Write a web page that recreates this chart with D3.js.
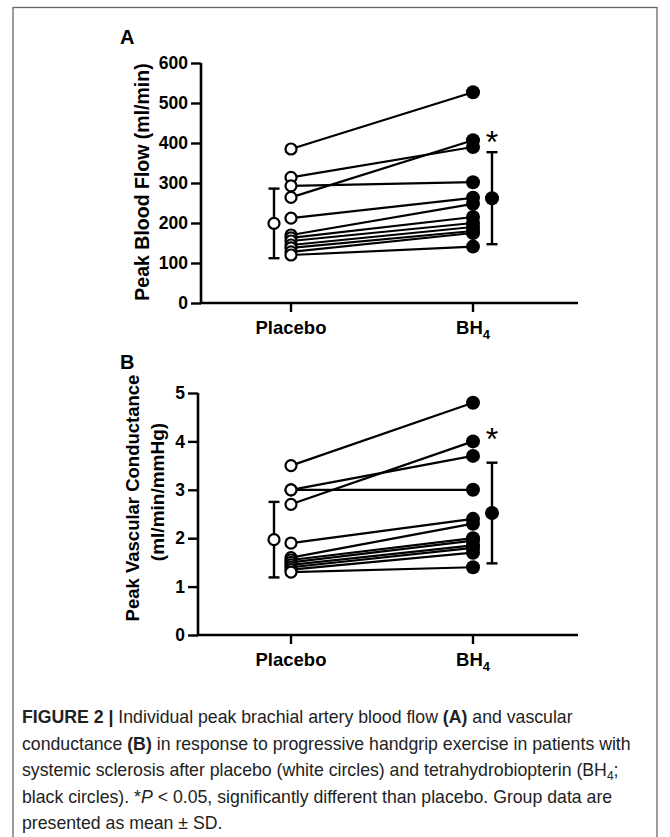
<!DOCTYPE html>
<html>
<head>
<meta charset="utf-8">
<script src="https://cdn.jsdelivr.net/npm/d3@7"></script>
<style>
  body { margin: 0; background: #fff; }
  svg { display: block; }
</style>
</head>
<body>
<div id="chart"></div>
<script>
const groups = ['Placebo', 'BH4'];

const flowPlacebo = [385, 314, 293, 264, 212, 170, 163, 155, 145, 138, 128, 120];
const flowBH4 = [527, 390, 302, 407, 263, 248, 215, 200, 190, 180, 175, 141];
const flowMean = [199, 262];
const flowSD = [87, 115];
const flowTicks = [0, 100, 200, 300, 400, 500, 600];

const condPlacebo = [3.5, 3.0, 3.0, 2.7, 1.9, 1.6, 1.55, 1.5, 1.45, 1.4, 1.35, 1.3];
const condBH4 = [4.8, 3.7, 3.0, 4.0, 2.4, 2.3, 2.0, 1.95, 1.85, 1.8, 1.7, 1.4];
const condMean = [1.97, 2.52];
const condSD = [0.78, 1.04];
const condTicks = [0, 1, 2, 3, 4, 5];

const W = 670, H = 837;
const FONT = '"Liberation Sans", Arial, sans-serif';

const svg = d3.select('#chart').append('svg')
  .attr('width', W).attr('height', H)
  .attr('font-family', FONT);

// frame
svg.append('rect')
  .attr('x', 13).attr('y', 7.5)
  .attr('width', 644).attr('height', 840)
  .attr('fill', 'none').attr('stroke', '#666').attr('stroke-width', 1.3);

function panel(opts) {
  const { letter, letterY, axisX, top, bottom, domain, ticks, fmt, placebo, bh4, mean, sd, star } = opts;
  const g = svg.append('g');

  const y = d3.scaleLinear().domain(domain).range([bottom, top]);
  const x = d3.scalePoint().domain(groups).range([291, 473]);
  const meanOffset = { Placebo: -17, BH4: 19 };

  g.append('text')
    .attr('x', 120).attr('y', letterY)
    .attr('font-size', 20).attr('font-weight', 'bold')
    .text(letter);

  // y axis
  const yAxis = d3.axisLeft(y).tickValues(ticks).tickFormat(fmt).tickSize(10).tickPadding(3);
  const ya = g.append('g').attr('transform', `translate(${axisX},0)`).call(yAxis);
  ya.select('.domain').attr('stroke-width', 2.6).attr('d', `M0,${top}V${bottom}`);
  ya.selectAll('.tick line').attr('stroke-width', 2.4);
  ya.selectAll('.tick text')
    .attr('font-size', 17.5).attr('font-weight', 'bold')
    .attr('font-family', FONT).attr('fill', '#000');

  // x axis
  const xa = g.append('g').attr('transform', `translate(0,${bottom})`);
  xa.append('line')
    .attr('x1', axisX - 1).attr('x2', 578)
    .attr('stroke', '#000').attr('stroke-width', 2.6);
  xa.selectAll('line.tk').data(groups).join('line')
    .attr('class', 'tk')
    .attr('x1', d => x(d)).attr('x2', d => x(d))
    .attr('y1', 0).attr('y2', 9)
    .attr('stroke', '#000').attr('stroke-width', 2.4);
  const lbl = xa.selectAll('text.lb').data(groups).join('text')
    .attr('class', 'lb')
    .attr('x', d => x(d)).attr('y', 31)
    .attr('text-anchor', 'middle')
    .attr('font-size', 18.5).attr('font-weight', 'bold');
  lbl.each(function (d) {
    const t = d3.select(this);
    if (d === 'BH4') {
      t.append('tspan').text('BH');
      t.append('tspan').attr('font-size', 13).attr('dy', 5).text('4');
    } else {
      t.text(d);
    }
  });

  // paired lines
  const pairs = placebo.map((v, i) => [v, bh4[i]]);
  g.append('g').selectAll('line').data(pairs).join('line')
    .attr('x1', x('Placebo')).attr('x2', x('BH4'))
    .attr('y1', d => y(d[0])).attr('y2', d => y(d[1]))
    .attr('stroke', '#000').attr('stroke-width', 2.2);

  // individual points
  g.append('g').selectAll('circle').data(placebo).join('circle')
    .attr('cx', x('Placebo')).attr('cy', d => y(d)).attr('r', 5.5)
    .attr('fill', '#fff').attr('stroke', '#000').attr('stroke-width', 2.2);
  g.append('g').selectAll('circle').data(bh4).join('circle')
    .attr('cx', x('BH4')).attr('cy', d => y(d)).attr('r', 7)
    .attr('fill', '#000');

  // mean +- SD
  const stats = groups.map((k, i) => ({ k, m: mean[i], s: sd[i] }));
  const eb = g.append('g').selectAll('g').data(stats).join('g')
    .attr('transform', d => `translate(${x(d.k) + meanOffset[d.k]},0)`);
  eb.append('line')
    .attr('y1', d => y(d.m - d.s)).attr('y2', d => y(d.m + d.s))
    .attr('stroke', '#000').attr('stroke-width', 2.4);
  eb.selectAll('line.cap').data(d => [d.m - d.s, d.m + d.s]).join('line')
    .attr('class', 'cap')
    .attr('x1', -5.5).attr('x2', 5.5)
    .attr('y1', v => y(v)).attr('y2', v => y(v))
    .attr('stroke', '#000').attr('stroke-width', 2.4);
  eb.append('circle')
    .attr('cy', d => y(d.m))
    .attr('r', d => d.k === 'BH4' ? 7 : 5.5)
    .attr('fill', d => d.k === 'BH4' ? '#000' : '#fff')
    .attr('stroke', '#000').attr('stroke-width', d => d.k === 'BH4' ? 0 : 2.2);

  g.append('text')
    .attr('x', x('BH4') + 19).attr('y', y(star) + 18)
    .attr('text-anchor', 'middle')
    .attr('font-size', 32)
    .text('*');

  return g;
}

const gA = panel({
  letter: 'A', letterY: 44, axisX: 201, top: 63, bottom: 303,
  domain: [0, 600], ticks: flowTicks, fmt: d3.format('d'),
  placebo: flowPlacebo, bh4: flowBH4, mean: flowMean, sd: flowSD, star: 420
});
gA.append('text')
  .attr('transform', 'translate(149,182) rotate(-90)')
  .attr('text-anchor', 'middle')
  .attr('font-size', 19.5).attr('font-weight', 'bold')
  .text('Peak Blood Flow (ml/min)');

const gB = panel({
  letter: 'B', letterY: 369, axisX: 198, top: 393, bottom: 635,
  domain: [0, 5], ticks: condTicks, fmt: d3.format('d'),
  placebo: condPlacebo, bh4: condBH4, mean: condMean, sd: condSD, star: 4.2
});
gB.append('text')
  .attr('transform', 'translate(139,498) rotate(-90)')
  .attr('text-anchor', 'middle')
  .attr('font-size', 18.5).attr('font-weight', 'bold')
  .text('Peak Vascular Conductance');
gB.append('text')
  .attr('transform', 'translate(164,492) rotate(-90)')
  .attr('text-anchor', 'middle')
  .attr('font-size', 19).attr('font-weight', 'bold')
  .text('(ml/min/mmHg)');

// caption
const capLines = [
  [['FIGURE 2 | ', 'b'], ['Individual peak brachial artery blood flow '], ['(A)', 'b'], [' and vascular']],
  [['conductance '], ['(B)', 'b'], [' in response to progressive handgrip exercise in patients with']],
  [['systemic sclerosis after placebo (white circles) and tetrahydrobiopterin (BH'], ['4', 'sub'], [';', 'up']],
  [['black circles). *'], ['P', 'i'], [' < 0.05, significantly different than placebo. Group data are']],
  [['presented as mean ± SD.']]
];
const cap = svg.append('g').attr('font-size', 17.7).attr('fill', '#222');
capLines.forEach((parts, i) => {
  const t = cap.append('text').attr('x', 22).attr('y', 723 + i * 26.5);
  parts.forEach(([s, st]) => {
    const sp = t.append('tspan').text(s);
    if (st === 'b') sp.attr('font-weight', 'bold');
    if (st === 'i') sp.attr('font-style', 'italic');
    if (st === 'sub') sp.attr('font-size', 12).attr('dy', 4);
    if (st === 'up') sp.attr('dy', -4);
  });
});
</script>
</body>
</html>
